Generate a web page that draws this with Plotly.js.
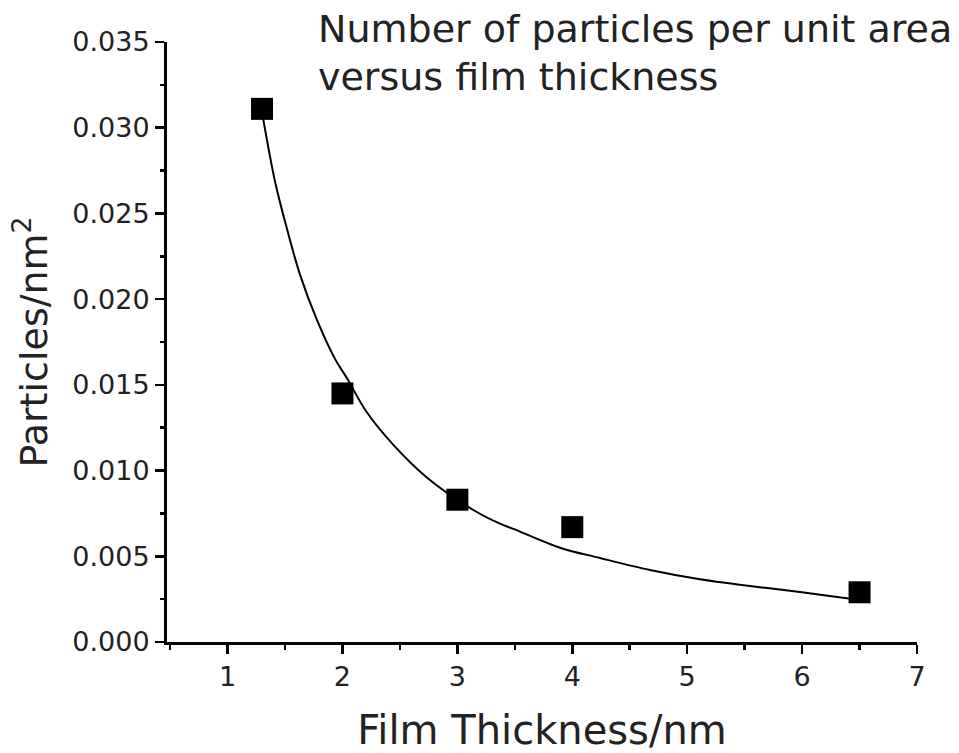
<!DOCTYPE html>
<html>
<head>
<meta charset="utf-8">
<script src="https://cdn.plot.ly/plotly-3.0.1.min.js"></script>
<style>html,body{margin:0;padding:0;background:#fff;}#chart{width:959px;height:753px;}</style>
</head>
<body>
<div id="chart"></div>
<script>
// Measured data points
const thickness = [1.3, 2, 3, 4, 6.5];
const particles = [0.0311, 0.0145, 0.0083, 0.0067, 0.0029];

// Fitted curve
const fitX = [1.30, 1.313, 1.415, 1.517, 1.632, 1.777, 1.936, 2.038, 2.212, 2.443, 2.734, 3.139, 3.371, 3.487, 3.893, 4.241, 4.676, 5.111, 5.546, 5.981, 6.125, 6.357, 6.5];
const fitY = [0.0309, 0.0304, 0.0268, 0.0241, 0.0214, 0.0188, 0.0165, 0.0154, 0.0134, 0.0115, 0.0096, 0.0077, 0.0069, 0.0066, 0.0055, 0.0049, 0.0042, 0.00366, 0.00327, 0.00292, 0.00278, 0.00258, 0.00245];

const xTicks = [1, 2, 3, 4, 5, 6, 7];
const yTicks = [0, 0.005, 0.010, 0.015, 0.020, 0.025, 0.030, 0.035];
const yTickText = ['0.000', '0.005', '0.010', '0.015', '0.020', '0.025', '0.030', '0.035'];
const titleLines = ['Number of particles per unit area', 'versus film thickness'];

const FONT = 'DejaVu Sans, sans-serif';

const traces = [
  {
    x: fitX, y: fitY, type: 'scatter', mode: 'lines',
    line: {color: '#000', width: 2, shape: 'spline', smoothing: 1},
    hoverinfo: 'skip', showlegend: false
  },
  {
    x: thickness, y: particles, type: 'scatter', mode: 'markers',
    marker: {symbol: 'square', size: 22, color: '#000'},
    showlegend: false
  }
];

const titleAnn = titleLines.map((t, i) => ({
  text: t, showarrow: false,
  xref: 'paper', yref: 'paper',
  x: (316 - 167) / 750, xanchor: 'left',
  y: [1.0217, 0.9417][i], yanchor: 'middle',
  font: {family: FONT, size: 38, color: '#222'}
}));

const layout = {
  width: 959, height: 753,
  margin: {l: 167, r: 42, t: 42, b: 111},
  paper_bgcolor: '#fff', plot_bgcolor: '#fff',
  font: {family: FONT, color: '#000'},
  annotations: titleAnn,
  xaxis: {
    range: [0.473, 7.0],
    tickmode: 'array', tickvals: xTicks, ticktext: xTicks.map(String),
    ticks: 'outside', ticklen: 9, tickwidth: 2.5, tickcolor: '#000',
    minor: {ticks: 'outside', dtick: 0.5, tick0: 0.5, ticklen: 5, tickwidth: 2.5, tickcolor: '#000'},
    showline: true, linecolor: '#000', linewidth: 3,
    showgrid: false, zeroline: false,
    tickfont: {family: FONT, size: 27, color: '#222'},
    title: {text: 'Film Thickness/nm', font: {family: FONT, size: 40, color: '#222'}, standoff: 28}
  },
  yaxis: {
    range: [0, 0.035],
    tickmode: 'array', tickvals: yTicks, ticktext: yTickText,
    ticks: 'outside', ticklen: 9, tickwidth: 2.5, tickcolor: '#000',
    minor: {ticks: 'outside', dtick: 0.0025, tick0: 0, ticklen: 4, tickwidth: 2.5, tickcolor: '#000'},
    showline: true, linecolor: '#000', linewidth: 3,
    showgrid: false, zeroline: false,
    tickfont: {family: FONT, size: 27, color: '#222'},
    title: {text: 'Particles/nm<sup>2</sup>', font: {family: FONT, size: 38, color: '#222'}, standoff: 14}
  }
};

Plotly.newPlot('chart', traces, layout, {displayModeBar: false, staticPlot: true});
</script>
</body>
</html>
